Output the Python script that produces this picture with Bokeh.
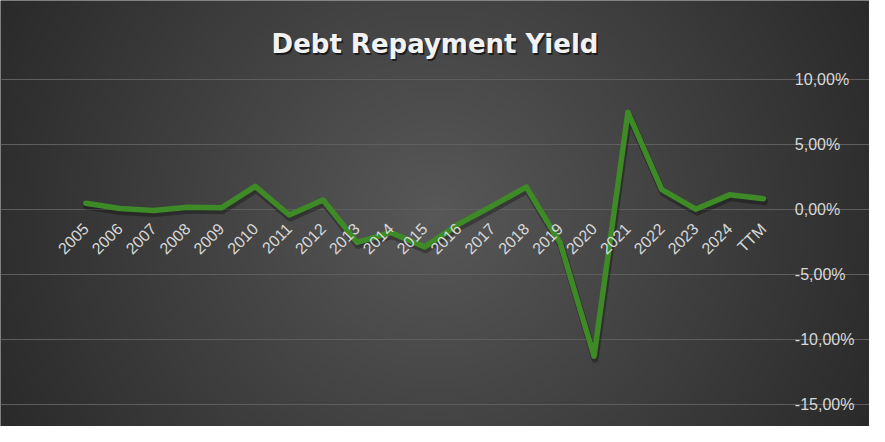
import numpy as np
from math import pi
from bokeh.plotting import figure
from bokeh.models import Range1d, LinearAxis, FixedTicker, Grid, Label
from bokeh.embed import file_html
from bokeh.resources import INLINE

# ---------------- data ----------------
periods = ["2005", "2006", "2007", "2008", "2009", "2010", "2011", "2012", "2013", "2014",
           "2015", "2016", "2017", "2018", "2019", "2020", "2021", "2022", "2023", "2024", "TTM"]
yield_pct = [0.45, 0.05, -0.1, 0.15, 0.1, 1.75, -0.45, 0.7, -2.55, -1.8,
             -2.9, -1.15, 0.25, 1.7, -2.6, -11.3, 7.45, 1.5, 0.0, 1.1, 0.8]
y_ticks = [-15, -10, -5, 0, 5, 10]
y_tick_labels = ["-15,00%", "-10,00%", "-5,00%", "0,00%", "5,00%", "10,00%"]
title_text = "Debt Repayment Yield"

# ---------------- layout (reference geometry scaled to the plot size) ----------------
W, H = 869, 426
SX, SY = W / 885.0, H / 442.0
PX_PER_CAT = 34.5 * SX
X0_PX = 87.0 * SX
PX_PER_PCT = 13.5 * SY
Y0_PX = 216.5 * SY

x_start = -X0_PX / PX_PER_CAT
x_end = x_start + W / PX_PER_CAT
y_end = Y0_PX / PX_PER_PCT
y_start = y_end - H / PX_PER_PCT

p = figure(width=W, height=H, x_range=Range1d(x_start, x_end), y_range=Range1d(y_start, y_end),
           x_axis_location=None, y_axis_location=None, toolbar_location=None,
           output_backend="svg", min_border=0, title=None,
           background_fill_color="#3a3a3a", border_fill_color="#2a2a2a",
           outline_line_color=None)
p.grid.visible = False

# radial background
yy, xx = np.mgrid[0:H, 0:W]
dx = (xx - W / 2.0) / SX
dy = ((H - 1 - yy) - H / 2.0) / SY
d = np.sqrt(dx ** 2 + dy ** 2) / 494.0
v = np.clip(88 - 46 * np.clip(d, 0, 1), 0, 255).astype(np.uint8)
img = np.empty((H, W), dtype=np.uint32)
view = img.view(dtype=np.uint8).reshape((H, W, 4))
view[..., 0] = v
view[..., 1] = v
view[..., 2] = v
view[..., 3] = 255
p.image_rgba(image=[img], x=x_start, y=y_start, dw=x_end - x_start, dh=y_end - y_start, level="image")

# grid
grid = Grid(dimension=1, ticker=FixedTicker(ticks=y_ticks), bounds=(-0.5, len(periods) - 0.5),
            grid_line_color="#5e5e5e", grid_line_width=1)
p.add_layout(grid)

# axes
xaxis = LinearAxis(fixed_location=0, ticker=FixedTicker(ticks=list(range(len(periods)))),
                   major_label_overrides={i: s for i, s in enumerate(periods)},
                   major_label_orientation=pi / 4,
                   axis_line_color=None, major_tick_line_color=None, minor_tick_line_color=None,
                   major_tick_in=0, major_tick_out=0, major_label_standoff=17,
                   major_label_text_color="#d9d9d9", major_label_text_font="Liberation Sans",
                   major_label_text_font_size="16px")
p.add_layout(xaxis, "below")

yaxis = LinearAxis(fixed_location=x_start + 809.0 * SX / PX_PER_CAT,
                   ticker=FixedTicker(ticks=y_ticks),
                   major_label_overrides=dict(zip(y_ticks, y_tick_labels)),
                   axis_line_color=None, major_tick_line_color=None, minor_tick_line_color=None,
                   major_tick_in=0, major_tick_out=0, major_label_standoff=0,
                   major_label_text_color="#d9d9d9", major_label_text_font="Liberation Sans",
                   major_label_text_font_size="16px")
p.add_layout(yaxis, "right")

# line with shadow
xs = list(range(len(periods)))
shadow_x = [x + 1.0 / PX_PER_CAT for x in xs]
shadow_y = [y - 3.0 / PX_PER_PCT for y in yield_pct]
p.line(shadow_x, shadow_y, line_color="black", line_alpha=0.3, line_width=7,
       line_join="round", line_cap="round")
p.line(xs, yield_pct, line_color="#3d8a26", line_width=5.5, line_join="round", line_cap="round")

# title
tx = (x_start + x_end) / 2
ty = y_end - 45.0 * SY / PX_PER_PCT
p.add_layout(Label(x=tx, y=ty, text=title_text, text_align="center", text_baseline="alphabetic",
                   text_font="DejaVu Sans", text_font_style="bold", text_font_size="26px",
                   text_color="black", text_alpha=0.6, x_offset=1.5, y_offset=-2))
p.add_layout(Label(x=tx, y=ty, text=title_text, text_align="center", text_baseline="alphabetic",
                   text_font="DejaVu Sans", text_font_style="bold", text_font_size="26px",
                   text_color="#f2f2f2"))

open("out.html", "w").write(file_html(p, INLINE))
